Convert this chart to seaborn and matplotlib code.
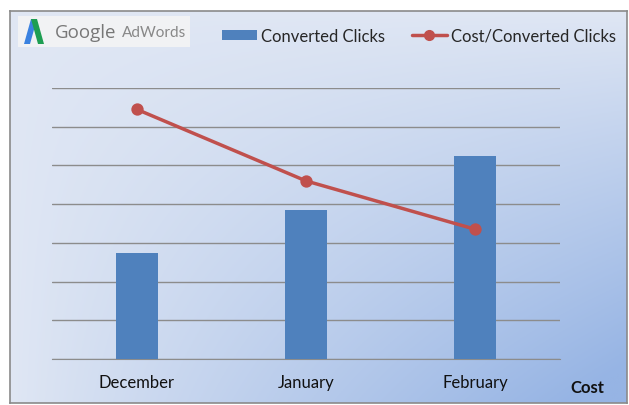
import numpy as np
import matplotlib
matplotlib.use("Agg")
import matplotlib.pyplot as plt
from matplotlib.patches import Rectangle, Polygon
from matplotlib.lines import Line2D
import seaborn as sns

# Data
months = ['December', 'January', 'February']
converted_clicks = [2.75, 3.85, 5.25]
cost_per_click = [6.45, 4.6, 3.35]

sns.set_style('white')
plt.rcParams['font.family'] = ['Lato', 'DejaVu Sans']

W, H = 629, 406
fig = plt.figure(figsize=(W / 100, H / 100), dpi=100)
fig.patch.set_facecolor('white')

def fx(px):
    return px / W

def fy(py):
    return 1 - py / H

# gradient background frame (blue towards the bottom right corner)
bg = fig.add_axes([fx(10), fy(404), fx(617), 392 / H])
gx, gy = np.meshgrid(np.linspace(0, 1, 300), np.linspace(0, 1, 200))
t = np.clip(gx * (1 - gy) * 1.1, 0, 1) ** 0.9
c0 = np.array([224, 231, 244]) / 255
c1 = np.array([150, 180, 228]) / 255
img = c0[None, None, :] * (1 - t[..., None]) + c1[None, None, :] * t[..., None]
bg.imshow(img, extent=[0, 1, 0, 1], aspect='auto', origin='lower')
bg.set_xticks([])
bg.set_yticks([])
for s in bg.spines.values():
    s.set_color('#8a8a8a')
    s.set_linewidth(1.2)

# main chart
ax = fig.add_axes([fx(52), fy(360), fx(508), 271 / H])
ax.set_facecolor('none')
sns.barplot(x=months, y=converted_clicks, color='#4f81bd', width=0.25,
            saturation=1, linewidth=0, edgecolor='none', ax=ax, zorder=3)
sns.pointplot(x=months, y=cost_per_click, color='#c0504d', ax=ax,
              markersize=7, linewidth=2.5, zorder=4)
ax.set_ylim(0, 7)
ax.set_xlim(-0.5, 2.5)
ax.set_yticks(range(8))
ax.set_yticklabels([])
ax.grid(axis='y', color='#8c8c8c', linewidth=1)
ax.set_axisbelow(True)
for side in ['top', 'right', 'left']:
    ax.spines[side].set_visible(False)
ax.spines['bottom'].set_color('#8c8c8c')
ax.tick_params(axis='y', length=0)
ax.set_xticks([-0.5, 0.5, 1.5, 2.5], minor=False)
ax.set_xticklabels([])
ax.tick_params(axis='x', which='major', length=5, color='#8c8c8c', direction='out')
ax.set_xticks([0, 1, 2], minor=True)
ax.set_xticklabels(months, minor=True)
ax.tick_params(axis='x', which='minor', length=0, labelsize=12, pad=11, labelcolor='#111111')
ax.set_xlabel('')
ax.set_ylabel('')

fig.text(fx(570), fy(388), 'Cost', fontsize=12, fontweight='bold',
         ha='left', va='center', color='#111111')

# logo box
fig.patches.append(Rectangle((fx(18), fy(48)), fx(172), 31 / H,
                             transform=fig.transFigure, facecolor='#f1f2f4',
                             edgecolor='none'))
fig.patches.append(Polygon([(fx(24), fy(45)), (fx(31), fy(20)), (fx(37), fy(20)), (fx(30), fy(45))],
                           closed=True, transform=fig.transFigure, facecolor='#3b82e0', edgecolor='none'))
fig.patches.append(Polygon([(fx(31), fy(20)), (fx(37), fy(20)), (fx(44), fy(45)), (fx(38), fy(45))],
                           closed=True, transform=fig.transFigure, facecolor='#1e9e52', edgecolor='none'))
fig.text(fx(55), fy(33), 'Google', fontsize=13.5, color='#777777',
         family=['Open Sans', 'DejaVu Sans'], ha='left', va='center')
fig.text(fx(122), fy(33), 'AdWords', fontsize=11, color='#888888',
         ha='left', va='center')

# legend
handles = [Rectangle((0, 0), 1, 1, facecolor='#4f81bd', edgecolor='none'),
           Line2D([0], [0], color='#c0504d', linewidth=2.5, marker='o', markersize=7)]
fig.legend(handles, ['Converted Clicks', 'Cost/Converted Clicks'], ncol=2,
           loc='center left', bbox_to_anchor=(fx(215), fy(37)), frameon=False,
           fontsize=12, handlelength=2.1, handleheight=0.6, handletextpad=0.25,
           columnspacing=1.6, borderaxespad=0)

fig.savefig('out.png', dpi=100)
